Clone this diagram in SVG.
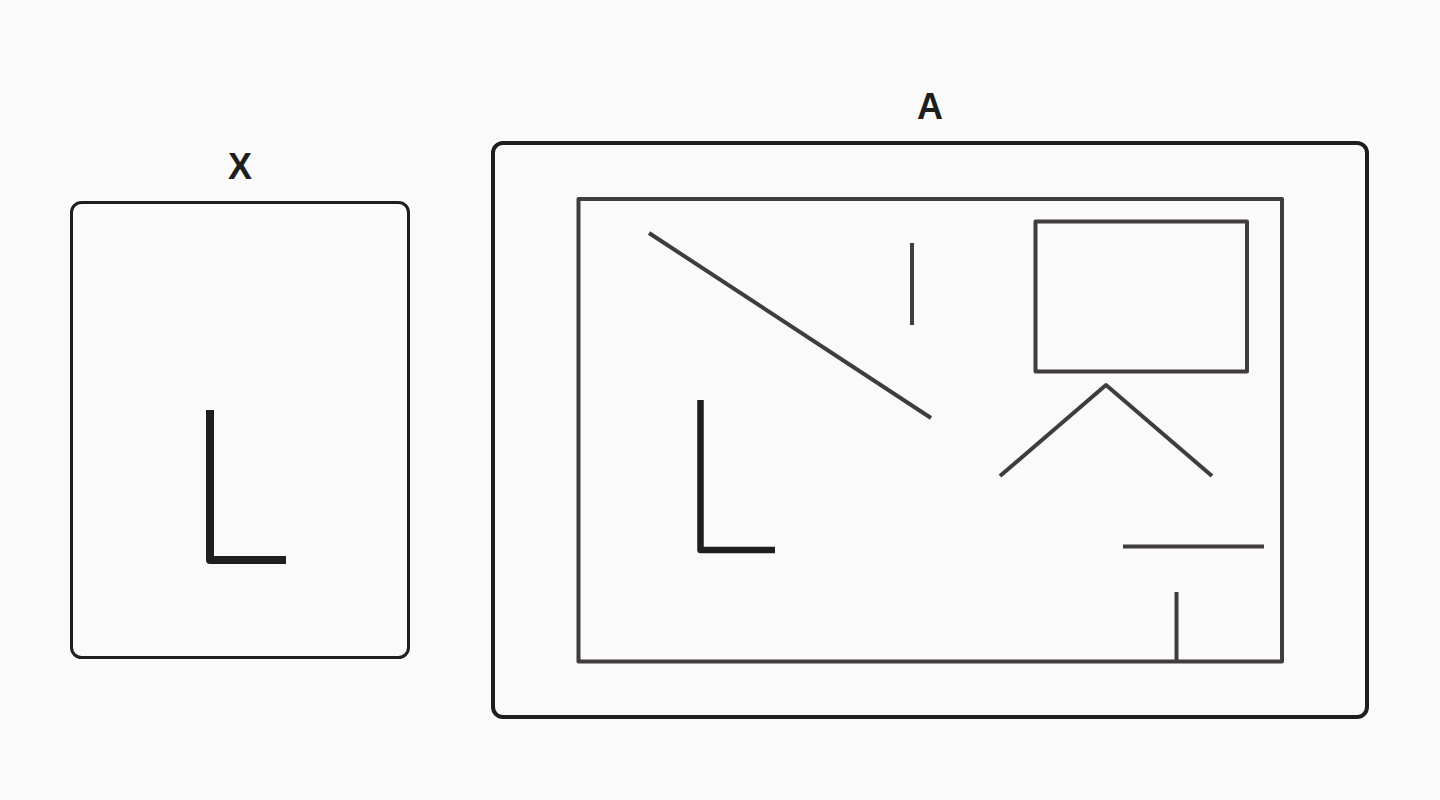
<svg xmlns="http://www.w3.org/2000/svg" width="1440" height="800" viewBox="0 0 1440 800">
  <style>
    .frame { fill: none; stroke: #1e1e1e; }
    .label { font-family: "Liberation Sans", Arial, sans-serif; font-weight: bold; font-size: 36px; fill: #1e1e1e; text-anchor: middle; }
    .ell { fill: none; stroke: #1e1e1e; stroke-linejoin: round; stroke-linecap: butt; }
    .ink { fill: none; stroke: #403c3d; stroke-width: 4; stroke-linecap: butt; stroke-linejoin: round; }
  </style>
  <rect width="1440" height="800" fill="#fafafa"/>
  <g id="node-x">
    <rect class="frame" x="71.5" y="202.5" width="337" height="455" rx="10" stroke-width="3"/>
    <text class="label" x="240" y="179">X</text>
    <polyline class="ell" points="210,410 210,560 286,560" stroke-width="8"/>
  </g>
  <g id="node-a">
    <rect class="frame" x="493" y="143" width="874" height="574" rx="10" stroke-width="4"/>
    <text class="label" x="930" y="119">A</text>
    <rect class="ink" x="578.5" y="199" width="703.5" height="462.5"/>
    <line class="ink" x1="649" y1="233" x2="931" y2="418"/>
    <line class="ink" x1="912" y1="243" x2="912" y2="325"/>
    <rect class="ink" x="1035.5" y="221.5" width="211.5" height="150"/>
    <polyline class="ink" points="1000,476 1106,385 1212,476"/>
    <line class="ink" x1="1123" y1="546.5" x2="1264" y2="546.5"/>
    <line class="ink" x1="1176.5" y1="592" x2="1176.5" y2="661"/>
    <polyline class="ell" points="700.5,400 700.5,550 775,550" stroke-width="6.5"/>
  </g>
</svg>
